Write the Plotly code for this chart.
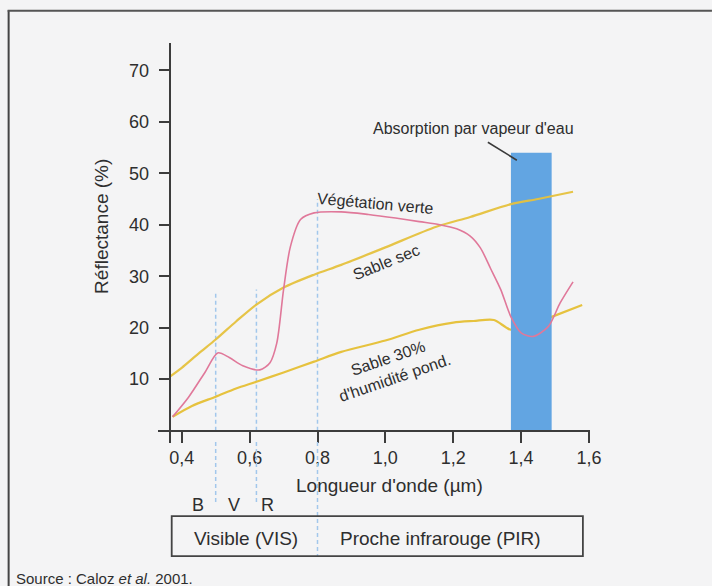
import plotly.graph_objects as go

# ---------------- data ----------------
veg_x = [0.373, 0.42, 0.47, 0.506, 0.54, 0.58, 0.63, 0.66, 0.68, 0.70, 0.72, 0.75, 0.79, 0.87,
         0.95, 1.03, 1.10, 1.16, 1.21, 1.25, 1.28, 1.31, 1.34, 1.37, 1.40, 1.435, 1.48, 1.515, 1.553]
veg_y = [2.7, 6.5, 11.5, 15.1, 14.2, 12.6, 11.8, 13.2, 17.0, 27.4, 35.7, 41.0, 42.3, 42.5,
         42.0, 41.3, 40.6, 40.0, 39.2, 37.8, 35.5, 31.5, 27.4, 22.1, 19.0, 18.3, 20.2, 24.8, 28.9]

dry_x = [0.365, 0.40, 0.45, 0.50, 0.56, 0.62, 0.70, 0.79, 0.87, 1.0, 1.15, 1.25, 1.37, 1.45, 1.553]
dry_y = [10.5, 12.2, 15.0, 17.7, 21.2, 24.5, 27.8, 30.3, 32.2, 35.6, 39.6, 41.5, 44.0, 45.0, 46.4]

wet_x = [0.373, 0.43, 0.50, 0.56, 0.62, 0.70, 0.79, 0.87, 1.0, 1.10, 1.20, 1.26, 1.32, 1.37,
         1.43, 1.49, 1.58]
wet_y = [2.7, 4.8, 6.6, 8.2, 9.5, 11.3, 13.4, 15.3, 17.5, 19.6, 21.0, 21.3, 21.5, 19.6,
         20.5, 22.1, 24.4]

absorption_band = [1.37, 1.49]
absorption_top = 54

band_edges = [0.5, 0.62, 0.8]
band_edge_tops = [26.8, 27.4, 45.0]

x_tickvals = [0.4, 0.6, 0.8, 1.0, 1.2, 1.4, 1.6]
x_ticktext = ["0,4", "0,6", "0,8", "1,0", "1,2", "1,4", "1,6"]
y_tickvals = [10, 20, 30, 40, 50, 60, 70]
y_ticktext = ["10", "20", "30", "40", "50", "60", "70"]

# ---------------- layout geometry ----------------
W, H = 712, 586
X_RANGE = [0.33, 1.603]
Y_RANGE = [-2.4, 75.3]
L, R_EDGE = 158.3, 590.1
T, B_EDGE = 42.7, 442.9
PW, PH = R_EDGE - L, B_EDGE - T


def px(xp):
    return (xp - L) / PW


def py(yp):
    return (B_EDGE - yp) / PH


FONT = "Liberation Sans, Arial, sans-serif"
TXT = "#2e2e2e"
AXC = "#3c3c3c"
PINK = "#e0789a"
YEL = "#e6c23e"
BLUE = "#62a5e2"
DASHC = "#a2c7ec"
BG = "#f4f4f5"

fig = go.Figure()

# dashed band boundaries (inside plot)
for bx, bt in zip(band_edges, band_edge_tops):
    fig.add_trace(go.Scatter(x=[bx, bx], y=[0, bt], mode="lines",
                             line=dict(color=DASHC, width=1.5, dash="4px,3px"),
                             hoverinfo="skip", showlegend=False))

# humid sand (under the absorption band)
fig.add_trace(go.Scatter(x=wet_x, y=wet_y, mode="lines", line_shape="spline",
                         line=dict(color=YEL, width=2.2, smoothing=0.8),
                         showlegend=False))

# absorption band
bx0, bx1 = absorption_band
fig.add_trace(go.Scatter(x=[bx0, bx0, bx1, bx1, bx0],
                         y=[0, absorption_top, absorption_top, 0, 0],
                         mode="lines", fill="toself", fillcolor=BLUE,
                         line=dict(color=BLUE, width=0), showlegend=False))

# dry sand
fig.add_trace(go.Scatter(x=dry_x, y=dry_y, mode="lines", line_shape="spline",
                         line=dict(color=YEL, width=2.2, smoothing=0.8),
                         opacity=0.95, showlegend=False))

# green vegetation
fig.add_trace(go.Scatter(x=veg_x, y=veg_y, mode="lines", line_shape="spline",
                         line=dict(color=PINK, width=1.6, smoothing=0.8),
                         showlegend=False))

shapes = []
# dashed lines below the axis (x in data units)
for bx, ybot in zip(band_edges, [503, 503, 557]):
    shapes.append(dict(type="line", xref="x", yref="paper", x0=bx, x1=bx,
                       y0=py(442), y1=py(ybot),
                       line=dict(color=DASHC, width=1.5, dash="4px,3px")))
# frame
shapes.append(dict(type="line", xref="paper", yref="paper", x0=px(9), x1=px(9),
                   y0=py(10), y1=py(586), line=dict(color="#454545", width=2)))
shapes.append(dict(type="line", xref="paper", yref="paper", x0=px(8), x1=px(712),
                   y0=py(10.5), y1=py(10.5), line=dict(color="#555555", width=2)))
# leader line for the absorption label
shapes.append(dict(type="line", xref="paper", yref="paper", x0=px(488), x1=px(517),
                   y0=py(142), y1=py(160), line=dict(color="#3a3a3a", width=1.5)))
# VIS / PIR box
shapes.append(dict(type="rect", xref="paper", yref="paper", x0=px(172), x1=px(583),
                   y0=py(516), y1=py(556), line=dict(color="#444444", width=1.8)))

annotations = []


def ann(text, x, y, size, angle=0, xanchor="center", **kw):
    annotations.append(dict(text=text, x=px(x), y=py(y), xref="paper", yref="paper",
                            showarrow=False, textangle=angle, xanchor=xanchor,
                            yanchor="middle", font=dict(family=FONT, size=size, color=TXT),
                            **kw))


ann("Réflectance (%)", 102, 226, 19, angle=-90)
ann("Longueur d'onde (µm)", 390, 485, 19)
ann("Absorption par vapeur d'eau", 474, 128, 16)
ann("Végétation verte", 376, 203, 16, angle=5)
ann("Sable sec", 386, 262, 16, angle=-22)
ann("Sable 30%<br>d'humidité pond.", 392, 368, 16, angle=-19)
ann("B", 198, 505, 18)
ann("V", 234, 505, 18)
ann("R", 268, 505, 18)
ann("Visible (VIS)", 246, 538, 19)
ann("Proche infrarouge (PIR)", 441, 538, 19)
ann("Source : Caloz <i>et al.</i> 2001.", 14, 578, 15, xanchor="left")

fig.update_layout(
    width=W, height=H, autosize=False,
    margin=dict(l=L, r=W - R_EDGE, t=T, b=H - B_EDGE, pad=0),
    paper_bgcolor=BG, plot_bgcolor="rgba(0,0,0,0)",
    font=dict(family=FONT, color=TXT),
    shapes=shapes, annotations=annotations, showlegend=False,
    xaxis=dict(range=X_RANGE, anchor="free", position=py(430.5),
               showgrid=False, zeroline=False, showline=True, linecolor=AXC, linewidth=2,
               ticks="outside", ticklen=11, tickwidth=2, tickcolor=AXC,
               tickvals=x_tickvals, ticktext=x_ticktext,
               tickfont=dict(family=FONT, size=18, color=TXT)),
    yaxis=dict(range=Y_RANGE, anchor="free", position=px(170),
               showgrid=False, zeroline=False, showline=True, linecolor=AXC, linewidth=2,
               ticks="outside", ticklen=10, tickwidth=2, tickcolor=AXC,
               tickvals=y_tickvals, ticktext=y_ticktext, ticklabelstandoff=6,
               tickfont=dict(family=FONT, size=18, color=TXT)),
)

fig.write_html("out.html", config={"displayModeBar": False},
               post_script="document.body.style.margin='0px';document.body.style.background='%s';" % BG)
